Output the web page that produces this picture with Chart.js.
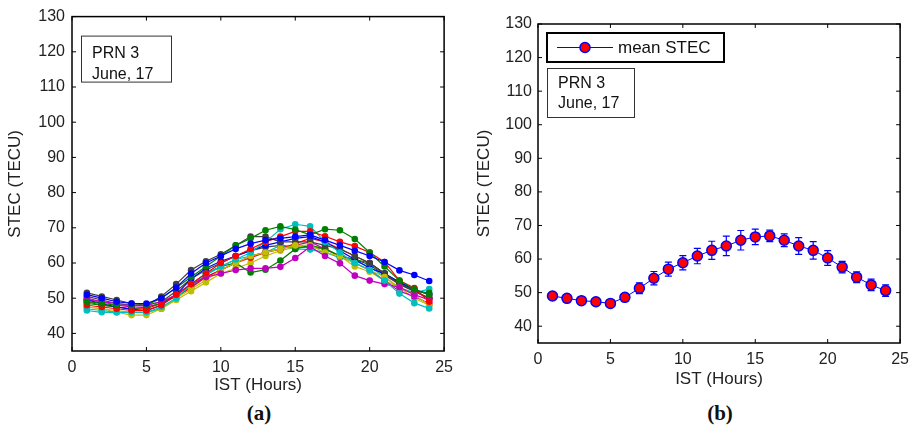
<!DOCTYPE html>
<html>
<head>
<meta charset="utf-8">
<script src="https://cdn.jsdelivr.net/npm/chart.js@4.4.1/dist/chart.umd.min.js"></script>
<style>
  body { margin: 0; background: #fff; width: 916px; height: 434px; position: relative; overflow: hidden; }
  #ca { position: absolute; left: 0; top: 0; }
  #cb { position: absolute; left: 460px; top: 0; }
  .tag { position: absolute; top: 401px; font: bold 21px "Liberation Serif", "Times New Roman", serif; color: #111; transform: translateX(-50%); }
</style>
</head>
<body>
<canvas id="ca" width="460" height="400"></canvas>
<canvas id="cb" width="456" height="400"></canvas>
<div class="tag" style="left:259px">(a)</div>
<div class="tag" style="left:720px">(b)</div>
<script>
const FONT = '"Liberation Sans", Arial, sans-serif';

// hours of the day (IST)
const hours = [1, 2, 3, 4, 5, 6, 7, 8, 9, 10, 11, 12, 13, 14, 15, 16, 17, 18, 19, 20, 21, 22, 23, 24];
const yTicks = [40, 50, 60, 70, 80, 90, 100, 110, 120, 130];
const xTicks = [0, 5, 10, 15, 20, 25];

// per-day STEC curves, panel (a)
const day1  = [51, 50, 49, 48.5, 48.5, 50, 53, 57, 60, 62, 64, 65.5, 66.5, 67, 67.5, 68, 66.5, 65, 63.5, 62, 60.3, 57.9, 56.6, 54.9];
const day2  = [49, 48.5, 48, 48, 48, 50, 53, 56, 59, 62, 65, 67, 69.3, 70.4, 69.5, 68, 69.6, 69.3, 66.8, 63, 59, 55, 52.5, 51];
const day3  = [48, 47.5, 47, 46.5, 46.5, 48, 51, 54, 57, 60, 62, 64, 66, 67.5, 69, 69, 67.6, 66, 64.8, 63, 60.3, 55, 52.9, 49];
const day4  = [47, 46.5, 46, 46, 46, 47.5, 50, 54, 57, 59, 61, 63, 66, 69.6, 71, 70.4, 66, 63, 60, 58, 55, 51.3, 48.6, 47.1];
const day5  = [50, 49, 48.5, 48, 48, 49, 51, 54, 56, 57, 58, 58.5, 58.5, 58.9, 61.4, 64.6, 62, 59.9, 56.4, 55, 54, 53.1, 51, 49.5];
const day6  = [47.5, 47, 46, 45.2, 45.2, 47, 50, 52.6, 55.1, 58, 60, 62, 63, 64, 65, 65, 63, 62, 60, 58, 56, 53, 51, 48];
const day7  = [51.5, 50.5, 49.5, 48.5, 48, 50.5, 54, 58, 60.5, 62.5, 65, 67.5, 67.5, 66, 66, 66, 65, 64, 62, 60, 57, 54, 52, 50];
const day8  = [49.5, 48.5, 47.5, 46.8, 46.5, 48, 51, 55.5, 58.5, 60.5, 62, 63.5, 65, 66, 67, 67.5, 66, 63.5, 61, 58.5, 57, 54.5, 52.5, 51];
const day9  = [48.5, 48, 47.5, 47, 47.5, 48.5, 51, 54, 57, 59, 60, 57.3, 58.1, 60.7, 64, 65, 64, 62, 61, 60, 57, 54.5, 52, 51.5];
const day10 = [49, 48, 47.5, 47, 47, 48.5, 50.5, 53, 56, 58, 60, 61.5, 63, 64, 65.5, 67, 66, 64, 62, 60, 57, 54, 52, 50];
const day11 = [46.5, 46, 46, 46, 46, 47, 50, 53.5, 56.5, 59, 61, 62, 63, 65, 64, 63.8, 63, 61.5, 60.5, 59, 56, 53, 51.5, 52.6];
const day12 = [49.5, 49, 48, 47.5, 47.5, 48.5, 51, 53.5, 56, 58, 60, 62, 63, 64, 65, 66, 64, 62, 60, 58, 55, 52, 50.5, 48.5];
const day13 = [47.5, 47, 46.5, 46, 46, 47, 49.5, 52, 54.5, 57, 58.5, 60, 62, 63.5, 64.5, 65, 64, 62, 59, 57.5, 55, 53, 50, 48];
const day14 = [50.5, 49.5, 48.5, 48, 48, 49, 52, 55.5, 58, 60, 62, 63.5, 64.5, 65, 64.5, 64.5, 64, 62, 61, 59.5, 56.5, 54, 52, 50];
const days = [day1, day2, day3, day4, day5, day6, day7, day8, day9, day10, day11, day12, day13, day14];
const dayColors = ['#0000ff', '#008000', '#ff0000', '#00bfbf', '#bf00bf', '#bfbf00', '#404040'];

// mean STEC and spread, panel (b)
const meanStec = [49, 48.3, 47.6, 47.3, 46.8, 48.6, 51.3, 54.3, 57, 58.9, 60.9, 62.6, 63.9, 65.6, 66.6, 66.9, 65.6, 63.9, 62.6, 60.3, 57.6, 54.6, 52.3, 50.6];
const stecErr  = [1, 0.9, 0.8, 0.9, 1, 1, 1.6, 2, 2.1, 2.1, 2.3, 2.7, 2.9, 2.9, 2.3, 1.7, 1.9, 2.5, 2.6, 2.2, 1.7, 1.6, 1.7, 1.7];

const noteLines = ['PRN 3', 'June, 17'];
const xTitle = 'IST (Hours)';
const yTitle = 'STEC (TECU)';

// MATLAB style box with inward ticks, text box and optional legend
const framePlugin = {
    id: 'frame',
    afterDraw(chart, args, o) {
        const { ctx, chartArea: a, scales: { x, y } } = chart;
        ctx.save();
        ctx.strokeStyle = '#000';
        ctx.lineWidth = 1.5;
        ctx.strokeRect(a.left, a.top, a.width, a.height);
        ctx.lineWidth = 1;
        ctx.beginPath();
        x.ticks.forEach(t => {
            const px = x.getPixelForValue(t.value);
            ctx.moveTo(px, a.bottom); ctx.lineTo(px, a.bottom - 4);
            ctx.moveTo(px, a.top); ctx.lineTo(px, a.top + 4);
        });
        y.ticks.forEach(t => {
            const py = y.getPixelForValue(t.value);
            ctx.moveTo(a.left, py); ctx.lineTo(a.left + 4, py);
            ctx.moveTo(a.right, py); ctx.lineTo(a.right - 4, py);
        });
        ctx.stroke();

        // note box
        const n = o.note;
        ctx.fillStyle = '#fff';
        ctx.fillRect(a.left + n.x, a.top + n.y, n.w, n.h);
        ctx.fillStyle = '#111';
        ctx.font = '16px ' + FONT;
        ctx.textBaseline = 'middle';
        noteLines.forEach((s, i) => ctx.fillText(s, a.left + n.tx, a.top + n.ty[i]));
        ctx.strokeStyle = '#333';
        ctx.lineWidth = 1;
        ctx.strokeRect(a.left + n.x + 0.5, a.top + n.y + 0.5, n.w, n.h);

        // legend
        if (o.legend) {
            const g = o.legend;
            const ds = chart.data.datasets[0];
            ctx.fillStyle = '#fff';
            ctx.fillRect(a.left + g.x, a.top + g.y, g.w, g.h);
            ctx.strokeStyle = '#000';
            ctx.lineWidth = 2;
            ctx.strokeRect(a.left + g.x, a.top + g.y, g.w, g.h);
            const cy = a.top + g.y + g.h / 2;
            ctx.strokeStyle = ds.borderColor;
            ctx.lineWidth = 1;
            ctx.beginPath();
            ctx.moveTo(a.left + g.x + 10, cy); ctx.lineTo(a.left + g.x + 66, cy);
            ctx.stroke();
            ctx.beginPath();
            ctx.arc(a.left + g.x + 38, cy, 5, 0, Math.PI * 2);
            ctx.fillStyle = ds.pointBackgroundColor;
            ctx.fill();
            ctx.lineWidth = 1.5;
            ctx.strokeStyle = ds.pointBorderColor;
            ctx.stroke();
            ctx.fillStyle = '#111';
            ctx.font = '17px ' + FONT;
            ctx.fillText(ds.label, a.left + g.x + 71, cy + 1);
        }
        ctx.restore();
    }
};

// error bars for the mean curve
const errorBarPlugin = {
    id: 'errbars',
    beforeDatasetsDraw(chart) {
        const { ctx, scales: { x, y } } = chart;
        ctx.save();
        ctx.strokeStyle = '#0000ff';
        ctx.lineWidth = 1.2;
        ctx.beginPath();
        hours.forEach((h, i) => {
            const px = x.getPixelForValue(h);
            const top = y.getPixelForValue(meanStec[i] + stecErr[i]);
            const bot = y.getPixelForValue(meanStec[i] - stecErr[i]);
            ctx.moveTo(px, top); ctx.lineTo(px, bot);
            ctx.moveTo(px - 3.5, top); ctx.lineTo(px + 3.5, top);
            ctx.moveTo(px - 3.5, bot); ctx.lineTo(px + 3.5, bot);
        });
        ctx.stroke();
        ctx.restore();
    }
};

function xAxis(height, tickPad, titlePad) {
    return {
        type: 'linear', min: 0, max: 25,
        ticks: { color: '#222', font: { size: 16, family: FONT }, padding: tickPad, maxRotation: 0, autoSkip: false },
        afterBuildTicks: s => { s.ticks = xTicks.map(v => ({ value: v })); },
        grid: { display: false, drawTicks: false },
        border: { display: false },
        title: { display: true, text: xTitle, color: '#222', font: { size: 17, family: FONT }, padding: { top: 0, bottom: titlePad } },
        afterFit: s => { s.height = height; }
    };
}

function yAxis(width, tickPad, titlePad) {
    return {
        min: 35, max: 130,
        ticks: { color: '#222', font: { size: 16, family: FONT }, padding: tickPad, autoSkip: false },
        afterBuildTicks: s => { s.ticks = yTicks.map(v => ({ value: v })); },
        grid: { display: false, drawTicks: false },
        border: { display: false },
        title: { display: true, text: yTitle, color: '#222', font: { size: 17, family: FONT }, padding: { top: titlePad, bottom: 0 } },
        afterFit: s => { s.width = width; }
    };
}

new Chart(document.getElementById('ca'), {
    type: 'line',
    data: {
        datasets: days.map((d, i) => ({
            label: 'day ' + (i + 1),
            data: hours.map((h, j) => ({ x: h, y: d[j] })),
            borderColor: dayColors[i % dayColors.length],
            backgroundColor: dayColors[i % dayColors.length],
            pointBackgroundColor: dayColors[i % dayColors.length],
            borderWidth: 1.2,
            pointRadius: 3.3,
            pointBorderWidth: 0,
            tension: 0
        }))
    },
    options: {
        responsive: false,
        animation: false,
        layout: { padding: { top: 16, right: 11, left: 0, bottom: 0 } },
        scales: { x: xAxis(49, 7, 4), y: yAxis(72, 7, 5) },
        plugins: {
            legend: { display: false },
            tooltip: { enabled: false },
            frame: { note: { x: 9, y: 19, w: 90, h: 46, tx: 20, ty: [37, 58] } }
        }
    },
    plugins: [framePlugin]
});

new Chart(document.getElementById('cb'), {
    type: 'line',
    data: {
        datasets: [{
            label: 'mean STEC',
            data: hours.map((h, j) => ({ x: h, y: meanStec[j] })),
            borderColor: '#0000ff',
            pointBackgroundColor: '#ff0000',
            pointBorderColor: '#0000ff',
            borderWidth: 1,
            pointRadius: 5,
            pointBorderWidth: 1.5,
            tension: 0
        }]
    },
    options: {
        responsive: false,
        animation: false,
        layout: { padding: { top: 24, right: 13, left: 0, bottom: 0 } },
        scales: { x: xAxis(57, 7, 10), y: yAxis(78, 6, 14) },
        plugins: {
            legend: { display: false },
            tooltip: { enabled: false },
            frame: {
                note: { x: 9, y: 44, w: 87, h: 49, tx: 20, ty: [60, 80] },
                legend: { x: 9, y: 9, w: 177, h: 29 }
            }
        }
    },
    plugins: [framePlugin, errorBarPlugin]
});
</script>
</body>
</html>
